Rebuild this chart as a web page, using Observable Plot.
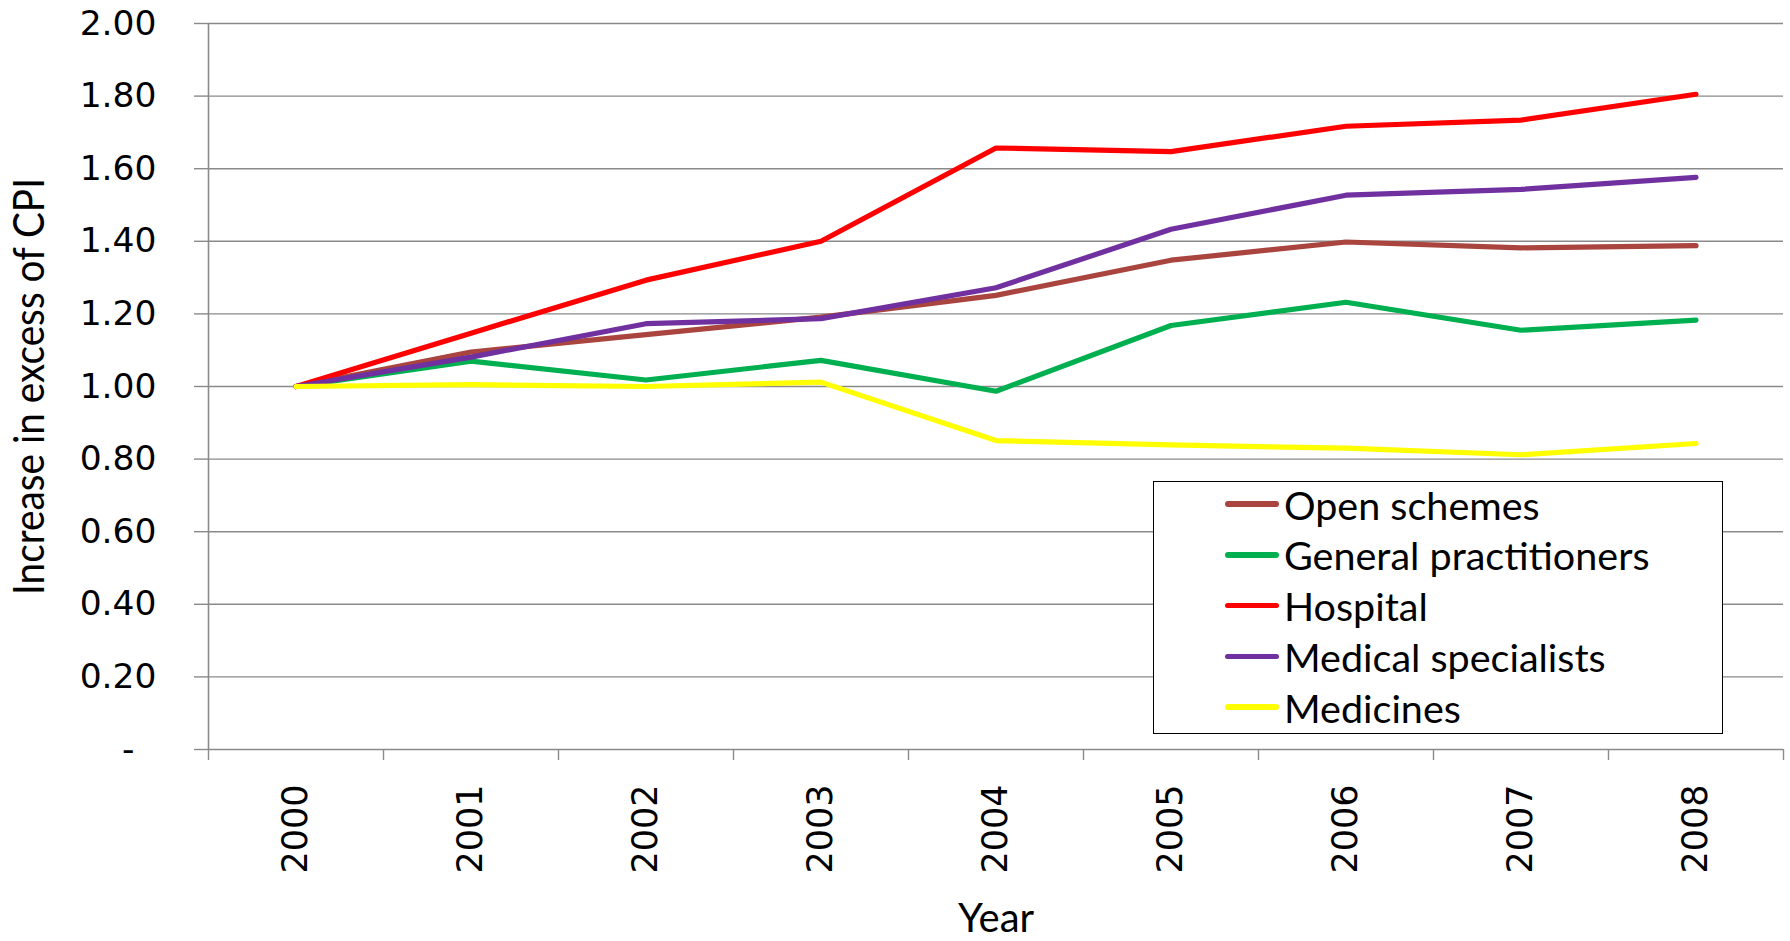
<!DOCTYPE html>
<html>
<head>
<meta charset="utf-8">
<script src="https://cdn.jsdelivr.net/npm/d3@7"></script>
<script src="https://cdn.jsdelivr.net/npm/@observablehq/plot@0.6"></script>
<style>
  html, body { margin: 0; padding: 0; background: #fff; }
  #wrap { position: relative; width: 1790px; height: 941px; }
  #legend { position: absolute; left: 1153px; top: 481px; width: 570px; height: 253px;
            border: 1.5px solid #000; background: #fff; box-sizing: border-box;
            font-family: Lato, "Open Sans", sans-serif; font-size: 39.5px; color: #000; }
  .row { position: absolute; left: 0; height: 50px; display: flex; align-items: center; white-space: nowrap; }
  .sw { width: 54px; height: 5.5px; border-radius: 3px; margin-left: 71px; margin-right: 5px; }
</style>
</head>
<body>
<div id="wrap"></div>
<script>
const years = [2000, 2001, 2002, 2003, 2004, 2005, 2006, 2007, 2008];
const seriesNames = ["Open schemes", "General practitioners", "Hospital", "Medical specialists", "Medicines"];
const seriesColors = ["#A9443F", "#00B050", "#FF0000", "#7030A0", "#FFFF00"];
const openSchemes = [1.00, 1.095, 1.143, 1.191, 1.251, 1.348, 1.398, 1.382, 1.388];
const generalPractitioners = [1.00, 1.070, 1.018, 1.072, 0.987, 1.168, 1.232, 1.155, 1.183];
const hospital = [1.00, 1.147, 1.293, 1.400, 1.657, 1.647, 1.717, 1.734, 1.805];
const medicalSpecialists = [1.00, 1.081, 1.173, 1.187, 1.272, 1.433, 1.527, 1.543, 1.576];
const medicines = [1.00, 1.005, 1.000, 1.012, 0.851, 0.839, 0.830, 0.812, 0.843];
const yTicks = [0, 0.2, 0.4, 0.6, 0.8, 1.0, 1.2, 1.4, 1.6, 1.8, 2.0];
const yTitle = "Increase in excess of CPI";
const xTitle = "Year";

const seriesValues = [openSchemes, generalPractitioners, hospital, medicalSpecialists, medicines];
const rows = [];
seriesNames.forEach((name, s) => {
  years.forEach((yr, i) => rows.push({series: name, year: yr, value: seriesValues[s][i]}));
});
const boundaries = [years[0] - 0.5, ...years.map(y => y + 0.5)];

const grid = "#8A8A8A";
const chart = Plot.plot({
  width: 1790,
  height: 941,
  marginLeft: 208,
  marginRight: 7,
  marginTop: 23,
  marginBottom: 192,
  style: {background: "#fff", fontFamily: "DejaVu Sans, sans-serif"},
  x: {type: "linear", domain: [years[0] - 0.5, years[years.length - 1] + 0.5]},
  y: {domain: [0, 2]},
  color: {domain: seriesNames, range: seriesColors},
  marks: [
    Plot.ruleY(yTicks, {stroke: grid, strokeWidth: 1.4}),
    Plot.ruleX([boundaries[0]], {stroke: grid, strokeWidth: 1.6}),
    Plot.axisY({ticks: yTicks, tickSize: 14, tickPadding: 38, stroke: grid, strokeWidth: 1.4,
      fontSize: 34.5, fill: "#000", label: null,
      tickFormat: d => d === 0 ? "-\u2007" : d.toFixed(2)}),
    Plot.axisX({ticks: boundaries, tickSize: 11, stroke: grid, strokeWidth: 1.4, tickFormat: () => "", label: null}),
    Plot.axisX({ticks: years, tickSize: 0, tickPadding: 35, tickRotate: -90, fontSize: 35, fill: "#000",
      tickFormat: d => String(d), label: null}),
    Plot.line(rows, {x: "year", y: "value", z: "series", stroke: "series", strokeWidth: 5.2,
      strokeLinejoin: "round", strokeLinecap: "round"}),
    Plot.text([yTitle], {frameAnchor: "left", textAnchor: "middle", dx: -178, rotate: -90, fontSize: 42,
      fontFamily: "Lato, sans-serif", fill: "#000", className: "ytitle"}),
    Plot.text([xTitle], {frameAnchor: "bottom", textAnchor: "middle", dy: 182, fontSize: 40,
      fontFamily: "Lato, sans-serif", fill: "#000"})
  ]
});
document.getElementById("wrap").appendChild(chart);
d3.select(chart).selectAll(".ytitle text").attr("textLength", 417).attr("lengthAdjust", "spacingAndGlyphs");

const legend = document.createElement("div");
legend.id = "legend";
seriesNames.forEach((name, i) => {
  const r = document.createElement("div");
  r.className = "row";
  r.style.top = (-3 + i * 50.8) + "px";
  const sw = document.createElement("div");
  sw.className = "sw";
  sw.style.background = seriesColors[i];
  const t = document.createElement("span");
  t.textContent = name;
  r.appendChild(sw); r.appendChild(t);
  legend.appendChild(r);
});
document.getElementById("wrap").appendChild(legend);
</script>
</body>
</html>
